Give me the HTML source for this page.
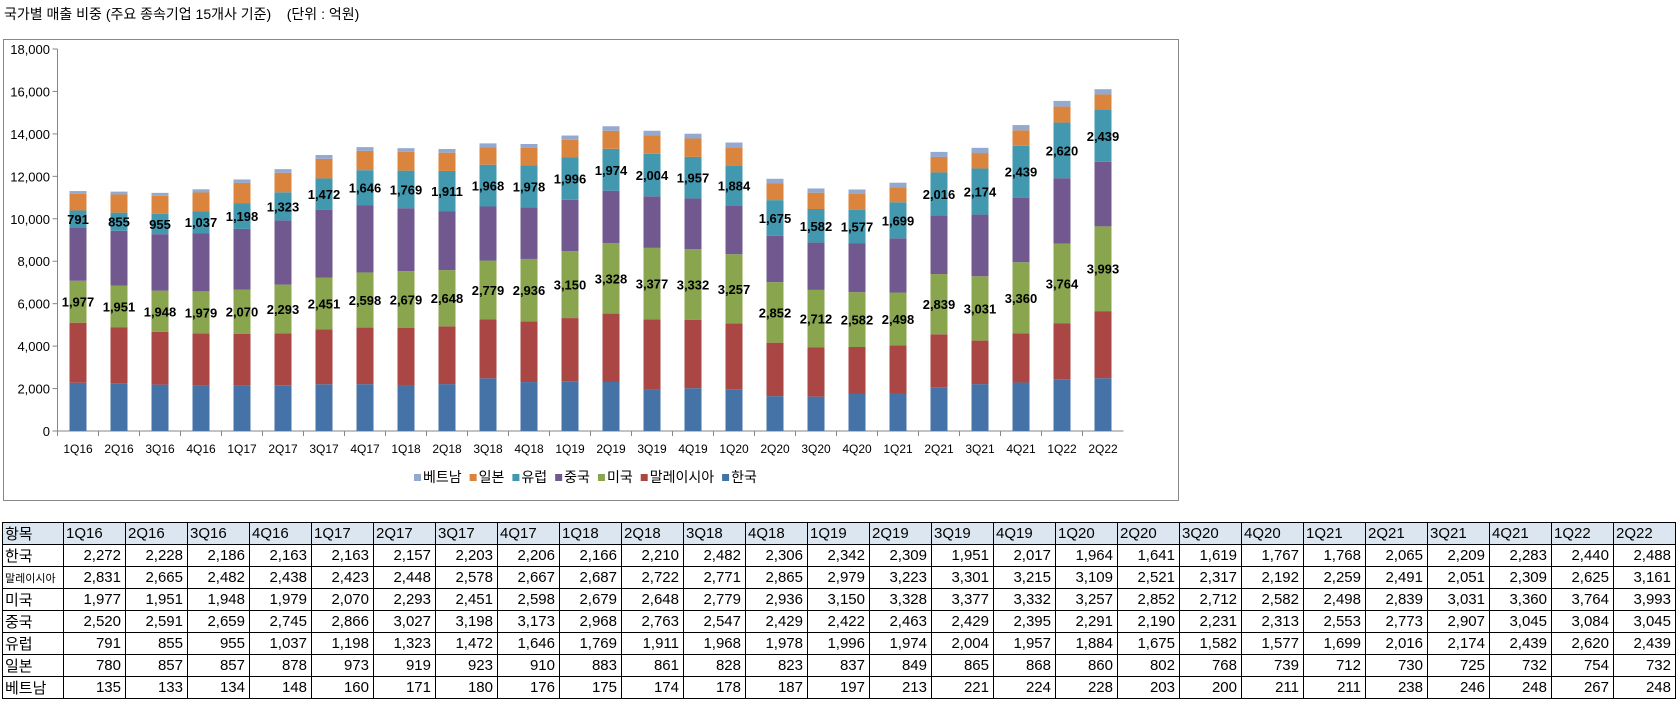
<!DOCTYPE html>
<html><head><meta charset="utf-8">
<style>
body{margin:0;width:1679px;height:702px;background:#fff;position:relative;overflow:hidden;font-family:"Liberation Sans","Noto Sans CJK KR",sans-serif;}
#title{position:absolute;left:4px;top:4px;font-size:14px;color:#000;white-space:pre;}
#chartbox{position:absolute;left:3px;top:39px;width:1176px;height:462px;border:1px solid #888;box-sizing:border-box;}
svg{position:absolute;left:0;top:0;}
table{position:absolute;left:2px;top:522px;border-collapse:collapse;font-size:15px;table-layout:fixed;width:1674px;}
td{border:1px solid #000;height:22px;padding:0 4px;text-align:right;box-sizing:border-box;overflow:hidden;white-space:nowrap;}
td.h{text-align:left;padding:0 2px;}
tr.hd td{background:#dce6f1;text-align:left;padding:0 2px;}
</style></head><body>
<div id="title">국가별 매출 비중 (주요 종속기업 15개사 기준)    (단위 : 억원)</div>
<div id="chartbox"></div>
<svg id="chart" width="1679" height="702"></svg>
<table id="tbl"></table>
<script>
const categories=["1Q16","2Q16","3Q16","4Q16","1Q17","2Q17","3Q17","4Q17","1Q18","2Q18","3Q18","4Q18","1Q19","2Q19","3Q19","4Q19","1Q20","2Q20","3Q20","4Q20","1Q21","2Q21","3Q21","4Q21","1Q22","2Q22"];
const seriesNames=["한국","말레이시아","미국","중국","유럽","일본","베트남"];
const korea=[2272,2228,2186,2163,2163,2157,2203,2206,2166,2210,2482,2306,2342,2309,1951,2017,1964,1641,1619,1767,1768,2065,2209,2283,2440,2488];
const malaysia=[2831,2665,2482,2438,2423,2448,2578,2667,2687,2722,2771,2865,2979,3223,3301,3215,3109,2521,2317,2192,2259,2491,2051,2309,2625,3161];
const usa=[1977,1951,1948,1979,2070,2293,2451,2598,2679,2648,2779,2936,3150,3328,3377,3332,3257,2852,2712,2582,2498,2839,3031,3360,3764,3993];
const china=[2520,2591,2659,2745,2866,3027,3198,3173,2968,2763,2547,2429,2422,2463,2429,2395,2291,2190,2231,2313,2553,2773,2907,3045,3084,3045];
const europe=[791,855,955,1037,1198,1323,1472,1646,1769,1911,1968,1978,1996,1974,2004,1957,1884,1675,1582,1577,1699,2016,2174,2439,2620,2439];
const japan=[780,857,857,878,973,919,923,910,883,861,828,823,837,849,865,868,860,802,768,739,712,730,725,732,754,732];
const vietnam=[135,133,134,148,160,171,180,176,175,174,178,187,197,213,221,224,228,203,200,211,211,238,246,248,267,248];
const yTicks=[0,2000,4000,6000,8000,10000,12000,14000,16000,18000];
const series=[korea,malaysia,usa,china,europe,japan,vietnam];
const colors=["#4572A7","#AA4643","#89A54E","#71588F","#4198AF","#DB843D","#93A9CF"];
const NS="http://www.w3.org/2000/svg";
const svg=document.getElementById('chart');
const x0=57.5,cw=41,y0=431,yTop=49,yMax=18000;
const yS=v=>y0-(v/yMax)*(y0-yTop);
const xC=i=>x0+cw*(i+0.5);
function mk(t,a){const e=document.createElementNS(NS,t);for(const k in a)e.setAttribute(k,a[k]);svg.appendChild(e);return e;}
const axY=mk('line',{x1:x0,y1:yTop,x2:x0,y2:y0,stroke:'#868686'});


yTicks.forEach(v=>{
  mk('line',{x1:x0-5,y1:yS(v),x2:x0,y2:yS(v),stroke:'#868686'});
  const t=mk('text',{x:50,y:yS(v)+5,'text-anchor':'end','font-size':13});
  t.textContent=v.toLocaleString('en-US');
  
  
});
const axX=mk('line',{x1:x0,y1:y0,x2:x0+cw*categories.length,y2:y0,stroke:'#868686'});


categories.forEach((c,i)=>{
  mk('line',{x1:x0+cw*i,y1:y0,x2:x0+cw*i,y2:y0+5,stroke:'#868686'});
  const t=mk('text',{x:xC(i),y:y0+22,'text-anchor':'middle','font-size':12});
  t.textContent=c;
  
  
  let acc=0;
  series.forEach((s,k)=>{
    const r=mk('rect',{x:xC(i)-8.5,y:yS(acc+s[i]),width:17,height:yS(acc)-yS(acc+s[i]),fill:colors[k]});
    
    
    if(k===2||k===4){
      const l=mk('text',{x:xC(i),y:yS(acc+s[i]/2)+5,'text-anchor':'middle','font-size':13,'font-weight':'bold'});
      l.textContent=s[i].toLocaleString('en-US');
      
      
    }
    acc+=s[i];
  });
});
let lx=414;
for(let k=6;k>=0;k--){
  const r=mk('rect',{x:lx,y:474,width:7,height:7,fill:colors[k]});
  
  
  const t=mk('text',{x:lx+9,y:482,'font-size':14});
  t.textContent=seriesNames[k];
  
  
  lx+=9+t.getComputedTextLength()+8;
}
const tbl=document.getElementById('tbl');
let h='<colgroup><col style="width:61px">'+categories.map(()=>'<col style="width:62px">').join('')+'</colgroup>';
h+='<tr class="hd"><td class="h">항목</td>'+categories.map(c=>'<td>'+c+'</td>').join('')+'</tr>';
series.forEach((s,k)=>{
  const nm=k===1?'<span style="font-size:11px">말레이시아</span>':seriesNames[k];
  h+='<tr><td class="h">'+nm+'</td>'+s.map(v=>'<td>'+v.toLocaleString('en-US')+'</td>').join('')+'</tr>';
});
tbl.innerHTML=h;
</script>
</body></html>
